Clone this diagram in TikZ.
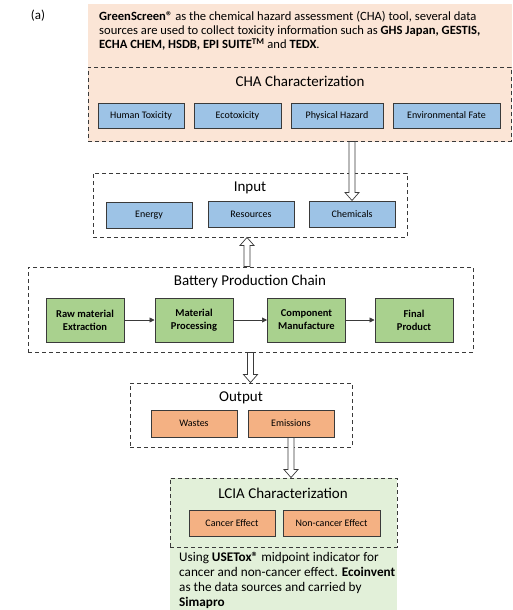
\documentclass[tikz,border=0pt]{standalone}
\usepackage{fontspec}
\setmainfont{Carlito}
\usetikzlibrary{arrows.meta,calc,fit}
\definecolor{chabg}{HTML}{FBE5D6}
\definecolor{lciabg}{HTML}{E2F0D9}
\definecolor{bluefill}{HTML}{9DC3E6}
\definecolor{greenfill}{HTML}{A9D18E}
\definecolor{orangefill}{HTML}{F4B183}
\definecolor{edge}{HTML}{3A3A3A}
\tikzset{every node/.style={font=\fontsize{10}{12}\selectfont},
  group/.style={draw=edge, line width=0.9pt, dash pattern=on 4pt off 3pt, inner sep=0pt},
  title/.style={font=\fontsize{15}{17}\selectfont},
  box/.style={draw=edge, line width=1pt, inner sep=1pt, align=center},
  bluebox/.style={box, fill=bluefill},
  greenbox/.style={box, fill=greenfill, font=\fontsize{10.5}{13}\selectfont\bfseries},
  orangebox/.style={box, fill=orangefill},
  flow/.style={draw=edge, line width=0.6pt, -{Triangle[length=5pt,width=5pt]}},
  % outlined block arrow between two points
  hollow/.style={draw=edge, fill=white, line width=0.7pt,
    to path={let \p1=(\tikztostart), \p2=(\tikztotarget),
      \p3=($(\p2)!8pt!(\p1)$) in
      ($(\p1)!3pt!90:(\p2)$) -- ($(\p3)!3pt!-90:(\p1)$) -- ($(\p3)!7pt!-90:(\p1)$)
      -- (\p2) -- ($(\p3)!7pt!90:(\p1)$) -- ($(\p3)!3pt!90:(\p1)$)
      -- ($(\p1)!3pt!-90:(\p2)$) -- cycle}}
}

\begin{document}
\begin{tikzpicture}[x=1pt, y=-1pt]
  \useasboundingbox[fill=white] (0,0) rectangle (513,610);
  \fill[chabg] (88,4) rectangle (512,142);
  \fill[lciabg] (170,478) rectangle (397,610);

  \node (lbl) at (38,16) {\fontsize{13}{15}\selectfont (a)};
  \node[anchor=north west, align=left, inner sep=0pt, font=\fontsize{12.6}{14}\selectfont] (note) at (99,11)
    {\textbf{GreenScreen®} as the chemical hazard assessment (CHA) tool, several data\\
     sources are used to collect toxicity information such as \textbf{GHS Japan, GESTIS,}\\
     \textbf{ECHA CHEM, HSDB, EPI SUITE\textsuperscript{TM}} and \textbf{TEDX}.};

  % CHA characterization
  \node[group, fit={(88,67) (511,141)}] (cha) {};
  \node[title] (chat) at (300,81) {CHA Characterization};
  \foreach \x/\w/\n/\t in {141/86/ht/Human Toxicity, 237.5/87/eco/Ecotoxicity,
      337/92/ph/Physical Hazard, 446.5/107/ef/Environmental Fate}
    \node[bluebox, minimum width=\w pt, minimum height=25pt] (\n) at (\x,115.5) {\t};

  % input
  \node[group, fit={(93,173) (407,237)}] (inp) {};
  \node[title] (inpt) at (250,188) {Input};
  \node[bluebox, minimum width=86pt, minimum height=26pt] (ene) at (149,215) {Energy};
  \node[bluebox, minimum width=86pt, minimum height=26pt] (res) at (251,214) {Resources};
  \node[bluebox, minimum width=86pt, minimum height=26pt] (chem) at (352,214) {Chemicals};

  % production chain
  \node[group, fit={(28,267) (473,352)}] (bat) {};
  \node[title] (batt) at (250,281) {Battery Production Chain};
  \foreach \x/\n/\t in {85/raw/Raw material\\Extraction, 194/mat/Material\\Processing,
      306.5/comp/Component\\Manufacture, 414/fin/Final\\Product}
    \node[greenbox, minimum width=78pt, minimum height=44pt] (\n) at (\x,320) {\t};
  \draw[flow] (raw) -- (mat);
  \draw[flow] (mat) -- (comp);
  \draw[flow] (comp) -- (fin);

  % output
  \node[group, fit={(130,383) (352,447)}] (out) {};
  \node[title] (outt) at (241,398) {Output};
  \node[orangebox, minimum width=86pt, minimum height=27pt] (was) at (194,423.5) {Wastes};
  \node[orangebox, minimum width=86pt, minimum height=27pt] (emi) at (291,423.5) {Emissions};

  % LCIA characterization
  \node[group, fit={(170,478) (397,547)}] (lcia) {};
  \node[title] (lciat) at (283,493) {LCIA Characterization};
  \node[orangebox, minimum width=86pt, minimum height=26pt] (can) at (232,523) {Cancer Effect};
  \node[orangebox, minimum width=97pt, minimum height=26pt] (ncan) at (331.5,523) {Non-cancer Effect};
  \node[anchor=north west, align=left, inner sep=0pt, font=\fontsize{13.2}{15}\selectfont] (use) at (179,552)
    {Using \textbf{USETox®} midpoint indicator for\\
     cancer and non-cancer effect. \textbf{Ecoinvent}\\
     as the data sources and carried by\\
     \textbf{Simapro}};

  % links between stages
  \draw[hollow] (cha.south -| chem.north) to (chem.north);
  \draw[hollow] (bat.north -| 247,0) to (inp.south -| 247,0);
  \draw[hollow] (bat.south) to (bat.south |- out.north);
  \draw[hollow] (emi.south) to (emi.south |- lcia.north);
\end{tikzpicture}
\end{document}
